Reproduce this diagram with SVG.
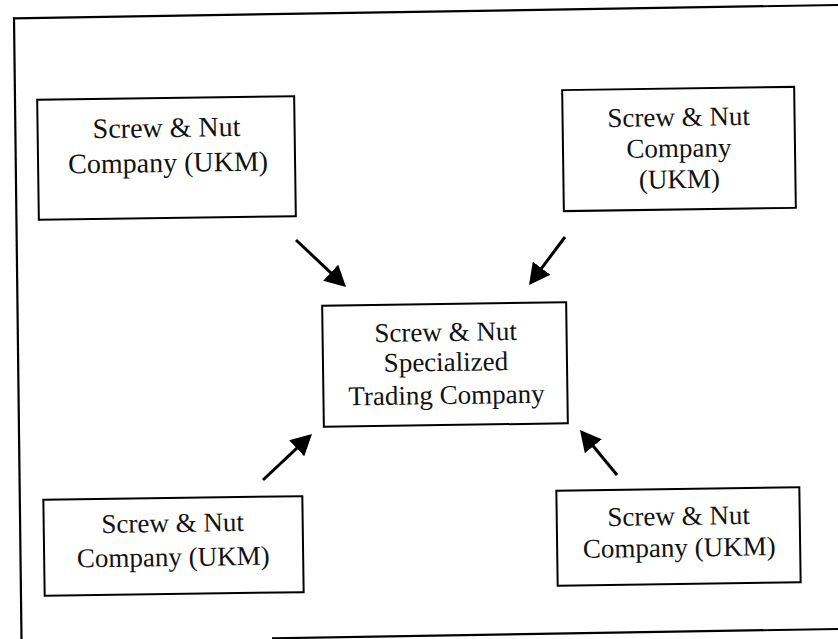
<svg xmlns="http://www.w3.org/2000/svg" width="838" height="639" viewBox="0 0 838 639">
  <defs>
    <style>
      .box { fill: #ffffff; stroke: #000000; stroke-width: 2; }
      .frame { stroke: #000000; stroke-width: 2.2; fill: none; }
      .lbl { font-family: "Liberation Serif", "Times New Roman", serif; fill: #111111; text-anchor: middle; }
      .conn { stroke: #000000; stroke-width: 3; fill: none; marker-end: url(#arrow); }
    </style>
    <marker id="arrow" markerUnits="userSpaceOnUse" markerWidth="22" markerHeight="22" refX="9" refY="11" orient="auto">
      <path d="M0,0 L21,11 L0,22 Z" fill="#000000"/>
    </marker>
  </defs>
  <rect x="0" y="0" width="838" height="639" fill="#ffffff"/>

  <g id="frame">
    <line class="frame" x1="13" y1="18.3" x2="838" y2="5"/>
    <line class="frame" x1="14" y1="17.5" x2="21.5" y2="639"/>
    <line class="frame" x1="272" y1="638.3" x2="838" y2="629"/>
  </g>

  <g id="node-top-left" transform="rotate(-0.8 166.5 158)">
    <rect class="box" x="38" y="98" width="257" height="120"/>
    <text class="lbl" font-size="28" x="167" y="137">Screw &amp; Nut</text>
    <text class="lbl" font-size="28" x="168" y="172">Company (UKM)</text>
  </g>

  <g id="node-top-right" transform="rotate(-0.8 679 149)">
    <rect class="box" x="563" y="88.5" width="232" height="121"/>
    <text class="lbl" font-size="27" x="679" y="126">Screw &amp; Nut</text>
    <text class="lbl" font-size="27" x="679" y="157">Company</text>
    <text class="lbl" font-size="27" x="679" y="188">(UKM)</text>
  </g>

  <g id="node-center" transform="rotate(-0.8 445 364.5)">
    <rect class="box" x="323" y="304" width="244" height="121"/>
    <text class="lbl" font-size="27" x="446" y="341">Screw &amp; Nut</text>
    <text class="lbl" font-size="27" x="446" y="371">Specialized</text>
    <text class="lbl" font-size="27" x="446" y="404">Trading Company</text>
  </g>

  <g id="node-bottom-left" transform="rotate(-0.8 173 546)">
    <rect class="box" x="44" y="498" width="259" height="96"/>
    <text class="lbl" font-size="27" x="173" y="532">Screw &amp; Nut</text>
    <text class="lbl" font-size="27" x="173" y="566">Company (UKM)</text>
  </g>

  <g id="node-bottom-right" transform="rotate(-0.8 678.7 536.5)">
    <rect class="box" x="557" y="489" width="243" height="95"/>
    <text class="lbl" font-size="27" x="679" y="525">Screw &amp; Nut</text>
    <text class="lbl" font-size="27" x="679" y="556.5">Company (UKM)</text>
  </g>

  <g id="connectors">
    <line class="conn" x1="296" y1="240" x2="337.25" y2="278.8"/>
    <line class="conn" x1="565" y1="237" x2="536.2" y2="275.4"/>
    <line class="conn" x1="263" y1="480" x2="303.25" y2="442.2"/>
    <line class="conn" x1="617" y1="475" x2="587.6" y2="439.3"/>
  </g>
</svg>
